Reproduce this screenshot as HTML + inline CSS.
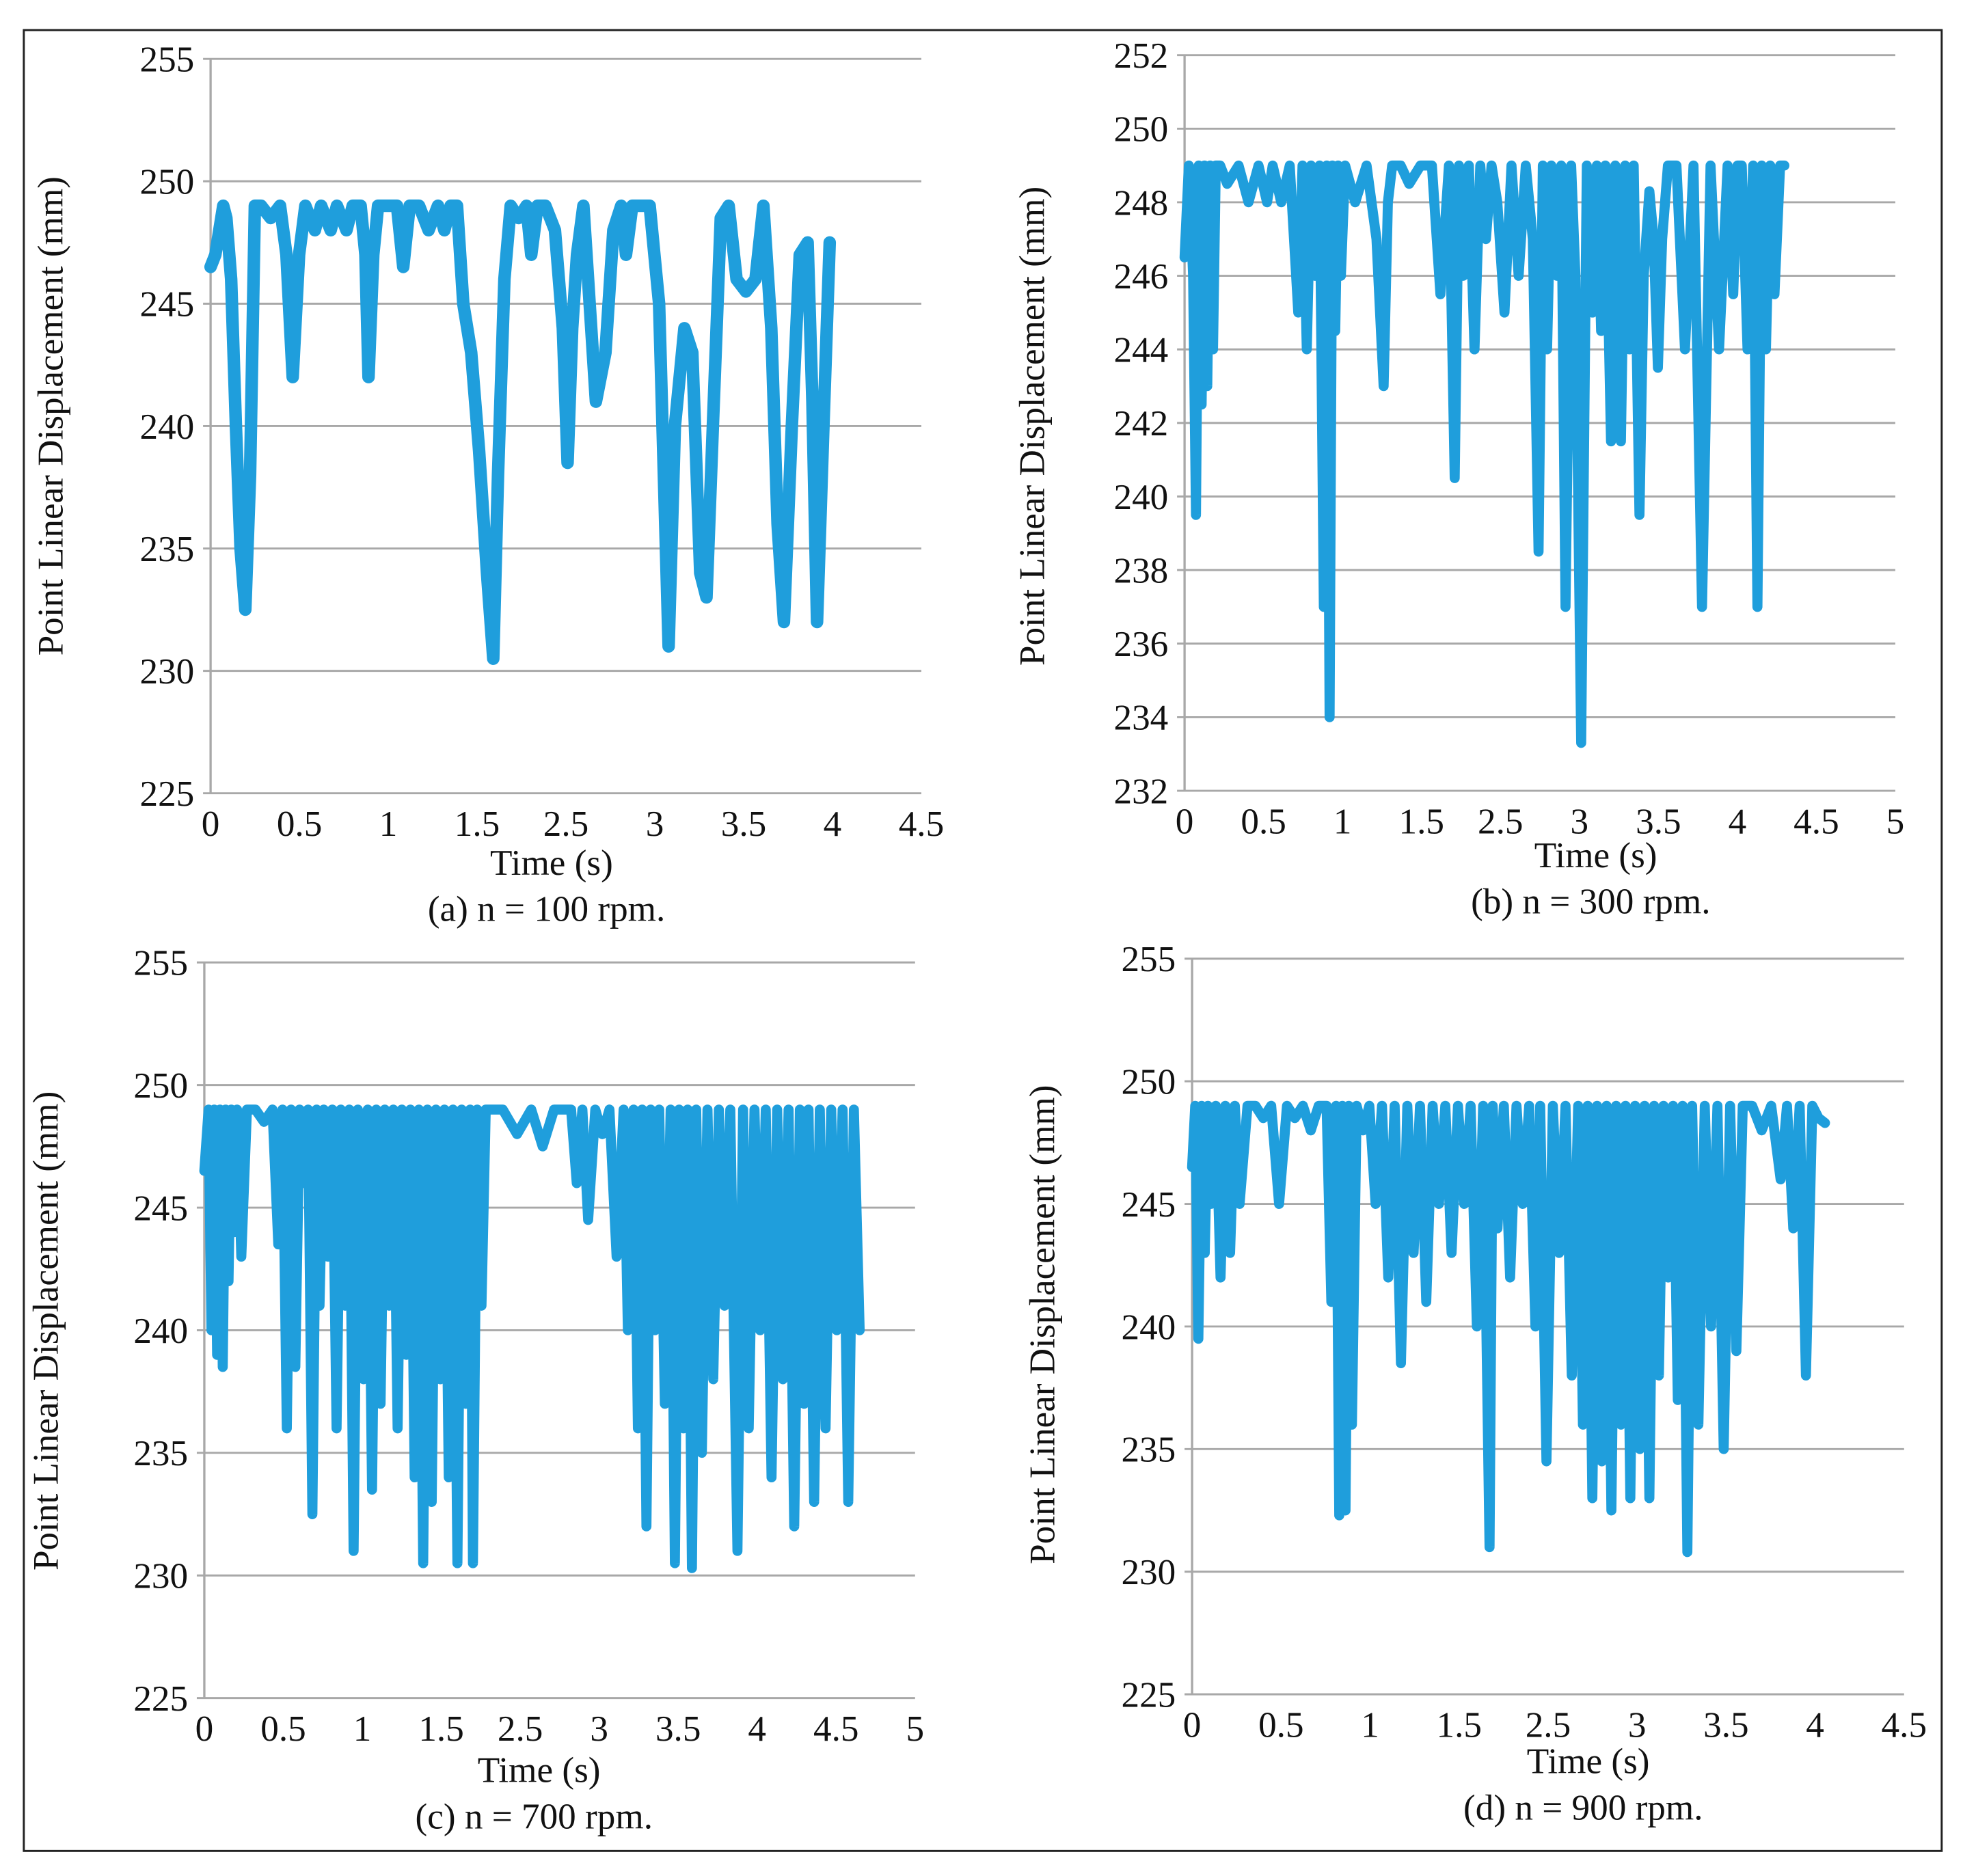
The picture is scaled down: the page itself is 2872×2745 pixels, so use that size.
<!DOCTYPE html>
<html><head><meta charset="utf-8"><style>
html,body{margin:0;padding:0;background:#fff;}
svg{display:block;}
text{font-family:"Liberation Serif",serif;fill:#111;}
</style></head><body>
<svg id="fig" width="2872" height="2745" viewBox="0 0 1566 1497" preserveAspectRatio="none" xmlns="http://www.w3.org/2000/svg">
<rect x="19" y="24" width="1530" height="1453" fill="#fff" stroke="#222" stroke-width="1.6"/>
</svg>
<script>
// ---- Panel (a) data: n = 100 rpm ----
const aTime=[0,0.03,0.08,0.1,0.13,0.16,0.19,0.22,0.25,0.28,0.32,0.38,0.44,0.48,0.52,0.56,0.6,0.66,0.7,0.76,0.8,0.86,0.9,0.95,0.98,1.0,1.03,1.06,1.12,1.18,1.22,1.26,1.32,1.38,1.44,1.48,1.52,1.56,1.6,1.65,1.7,1.75,1.79,1.82,1.86,1.9,1.95,2.0,2.03,2.07,2.12,2.18,2.23,2.26,2.29,2.32,2.36,2.44,2.5,2.55,2.6,2.63,2.67,2.72,2.78,2.84,2.87,2.9,2.94,3.0,3.05,3.1,3.14,3.18,3.23,3.28,3.33,3.39,3.45,3.5,3.55,3.59,3.63,3.68,3.73,3.78,3.81,3.84,3.88,3.92];
const aVal=[246.5,247,249,248.5,246,240,235,232.5,238,249,249,248.5,249,247,242,247,249,248,249,248,249,248,249,249,247,242,247,249,249,249,246.5,249,249,248,249,248,249,249,245,243,239,234,230.5,238,246,249,248.5,249,247,249,249,248,244,238.5,244,247,249,241,243,248,249,247,249,249,249,245,238,231,240,244,243,234,233,240,248.5,249,246,245.5,246,249,244,236,232,240,247,247.5,241,232,240,247.5];
// ---- Panel (b) data: n = 300 rpm ----
const bTime=[0,0.03,0.06,0.08,0.1,0.12,0.14,0.16,0.18,0.2,0.22,0.25,0.3,0.38,0.45,0.52,0.58,0.62,0.68,0.74,0.8,0.83,0.86,0.89,0.92,0.95,0.98,1.0,1.02,1.04,1.06,1.08,1.1,1.13,1.2,1.28,1.35,1.4,1.43,1.46,1.52,1.58,1.66,1.74,1.8,1.86,1.9,1.93,1.96,2.0,2.04,2.08,2.12,2.16,2.2,2.25,2.3,2.35,2.4,2.45,2.49,2.52,2.55,2.58,2.62,2.65,2.68,2.72,2.75,2.79,2.83,2.87,2.9,2.93,2.96,3.0,3.03,3.07,3.1,3.13,3.16,3.2,3.23,3.27,3.3,3.33,3.36,3.4,3.46,3.52,3.58,3.64,3.7,3.76,3.82,3.86,3.89,3.92,3.96,4.0,4.03,4.06,4.09,4.12,4.15,4.19,4.22,4.25,4.29];
const bVal=[246.5,249,246,239.5,249,242.5,249,243,249,244,249,249,248.5,249,248,249,248,249,248,249,245,249,244,249,246,249,237,249,234,249,244.5,249,246,249,248,249,247,243,248,249,249,248.5,249,249,245.5,249,240.5,249,246,249,244,249,247,249,248,245,249,246,249,247,238.5,249,244,249,246,249,237,249,246,233.3,249,245,249,244.5,249,241.5,249,241.5,249,244,249,239.5,246,248.3,247,243.5,247,249,249,244,249,237,249,244,249,245.5,249,249,244,249,237,249,244,249,245.5,249,249];
// ---- Panel (c) data: n = 700 rpm ----
const cTime=[0,0.03,0.05,0.07,0.09,0.11,0.13,0.15,0.17,0.19,0.21,0.23,0.26,0.3,0.36,0.42,0.48,0.52,0.55,0.58,0.61,0.64,0.67,0.7,0.73,0.76,0.79,0.81,0.84,0.87,0.9,0.93,0.96,0.99,1.02,1.05,1.08,1.12,1.15,1.18,1.21,1.24,1.27,1.3,1.33,1.36,1.39,1.42,1.45,1.48,1.51,1.54,1.57,1.6,1.63,1.66,1.69,1.72,1.75,1.78,1.81,1.84,1.87,1.89,1.92,1.95,1.98,2.02,2.1,2.2,2.3,2.38,2.46,2.52,2.58,2.62,2.66,2.7,2.75,2.8,2.85,2.9,2.95,2.98,3.02,3.05,3.08,3.11,3.14,3.17,3.2,3.24,3.28,3.31,3.34,3.37,3.4,3.43,3.46,3.5,3.54,3.58,3.62,3.66,3.7,3.75,3.79,3.83,3.87,3.91,3.95,3.99,4.03,4.07,4.11,4.15,4.19,4.22,4.25,4.29,4.33,4.37,4.41,4.45,4.49,4.53,4.57,4.61,4.64,4.67];
const cVal=[246.5,249,240,249,239,249,238.5,249,242,249,244,249,243,249,249,248.5,249,243.5,249,236,249,238.5,249,246,249,232.5,249,241,249,243,249,236,249,241,249,231,249,238,249,233.5,249,237,249,241,249,236,249,239,249,234,249,230.5,249,233,249,238,249,234,249,230.5,249,237,249,230.5,249,241,249,249,249,248,249,247.5,249,249,249,246,249,244.5,249,248,249,243,249,240,249,236,249,232,249,240,249,237,249,230.5,249,236,249,230.3,249,235,249,238,249,241,249,231,249,236,249,240,249,234,249,238,249,232,249,237,249,233,249,236,249,240,249,233,249,240];
// ---- Panel (d) data: n = 900 rpm ----
const dTime=[0,0.02,0.04,0.06,0.08,0.1,0.12,0.15,0.18,0.21,0.24,0.27,0.3,0.35,0.4,0.45,0.5,0.55,0.6,0.65,0.7,0.75,0.8,0.85,0.88,0.91,0.93,0.95,0.97,0.99,1.01,1.04,1.08,1.12,1.16,1.2,1.24,1.28,1.32,1.36,1.4,1.44,1.48,1.52,1.56,1.6,1.64,1.68,1.72,1.76,1.8,1.84,1.88,1.9,1.93,1.97,2.01,2.05,2.09,2.13,2.17,2.2,2.24,2.28,2.32,2.36,2.4,2.44,2.47,2.5,2.53,2.56,2.59,2.62,2.65,2.68,2.71,2.74,2.77,2.8,2.83,2.86,2.89,2.92,2.95,2.98,3.01,3.04,3.07,3.1,3.13,3.16,3.2,3.24,3.28,3.32,3.36,3.4,3.44,3.48,3.54,3.6,3.66,3.72,3.76,3.8,3.84,3.88,3.92,3.96,4.0];
const dVal=[246.5,249,239.5,249,243,249,245,249,242,249,243,249,245,249,249,248.5,249,245,249,248.5,249,248,249,249,241,249,232.3,249,232.5,249,236,249,248,249,245,249,242,249,238.5,249,243,249,241,249,245,249,243,249,245,249,240,249,231,249,244,249,242,249,245,249,240,249,234.5,249,243,249,238,249,236,249,233,249,234.5,249,232.5,249,236,249,233,249,235,249,233,249,238,249,242,249,237,249,230.8,249,236,249,240,249,235,249,239,249,249,248,249,246,249,244,249,238,249,248.5,248.3];

const NS="http://www.w3.org/2000/svg";
const svg=document.getElementById('fig');
function mk(tag,attrs,parent){const e=document.createElementNS(NS,tag);for(const k in attrs)e.setAttribute(k,attrs[k]);(parent||svg).appendChild(e);return e;}

function chart(cfg,times,vals){
  const g=mk('g',{});
  
  
  const xs=t=>cfg.x0+(t/cfg.tmax)*(cfg.x1-cfg.x0);
  const ys=v=>cfg.yb-(v-cfg.vmin)/(cfg.vmax-cfg.vmin)*(cfg.yb-cfg.yt);
  for(let v=cfg.vmin;v<=cfg.vmax+1e-9;v+=cfg.step){
    const gl=mk('line',{x1:cfg.x0-6,x2:cfg.x1,y1:ys(v),y2:ys(v),stroke:'#a8a8a8','stroke-width':1.6},g);
    
    
    const tl=mk('text',{x:cfg.x0-13,y:ys(v)+10,'text-anchor':'end','font-size':29},g);
    
    
    tl.textContent=String(v);
  }
  const ax=mk('line',{x1:cfg.x0,x2:cfg.x0,y1:cfg.yt,y2:cfg.yb,stroke:'#a8a8a8','stroke-width':1.8},g);
  
  
  const n=cfg.xl.length;
  cfg.xl.forEach((lab,i)=>{
    const t=mk('text',{x:cfg.x0+i*(cfg.x1-cfg.x0)/(n-1),y:cfg.yb+34,'text-anchor':'middle','font-size':29},g);
    
    
    t.textContent=lab;
  });
  const pts=times.map((t,i)=>xs(t).toFixed(1)+','+ys(vals[i]).toFixed(1)).join(' ');
  const pl=mk('polyline',{points:pts,fill:'none',stroke:'#1f9edc','stroke-width':cfg.sw,'stroke-linejoin':'round','stroke-linecap':'round'},g);
  
  
  const yt=mk('text',{x:0,y:0,'text-anchor':'middle','font-size':29,transform:`translate(${cfg.ytx},${cfg.yty}) rotate(-90)`},g);
  
  
  yt.textContent='Point Linear Displacement (mm)';
  const xt=mk('text',{x:cfg.xtx,y:cfg.xty,'text-anchor':'middle','font-size':29},g);
  
  
  xt.textContent='Time (s)';
  const cp=mk('text',{x:cfg.xtx-4,y:cfg.xty+37,'text-anchor':'middle','font-size':29},g);
  
  
  cp.textContent=cfg.cap;
}
const L9=['0','0.5','1','1.5','2.5','3','3.5','4','4.5'];
const L10=['0','0.5','1','1.5','2.5','3','3.5','4','4.5','5'];
chart({name:'chart-a-100rpm',x0:168,x1:735,tmax:4.5,yt:47,yb:633,vmin:225,vmax:255,step:5,xl:L9,sw:10,ytx:50,yty:332,xtx:440,xty:698,cap:'(a) n = 100 rpm.'},aTime,aVal);
chart({name:'chart-b-300rpm',x0:945,x1:1512,tmax:5,yt:44,yb:631,vmin:232,vmax:252,step:2,xl:L10,sw:8,ytx:833,yty:340,xtx:1273,xty:692,cap:'(b) n = 300 rpm.'},bTime,bVal);
chart({name:'chart-c-700rpm',x0:163,x1:730,tmax:5,yt:768,yb:1355,vmin:225,vmax:255,step:5,xl:L10,sw:8,ytx:46,yty:1062,xtx:430,xty:1422,cap:'(c) n = 700 rpm.'},cTime,cVal);
chart({name:'chart-d-900rpm',x0:951,x1:1519,tmax:4.5,yt:765,yb:1352,vmin:225,vmax:255,step:5,xl:L9,sw:8,ytx:841,yty:1057,xtx:1267,xty:1415,cap:'(d) n = 900 rpm.'},dTime,dVal);
</script>
</body></html>
